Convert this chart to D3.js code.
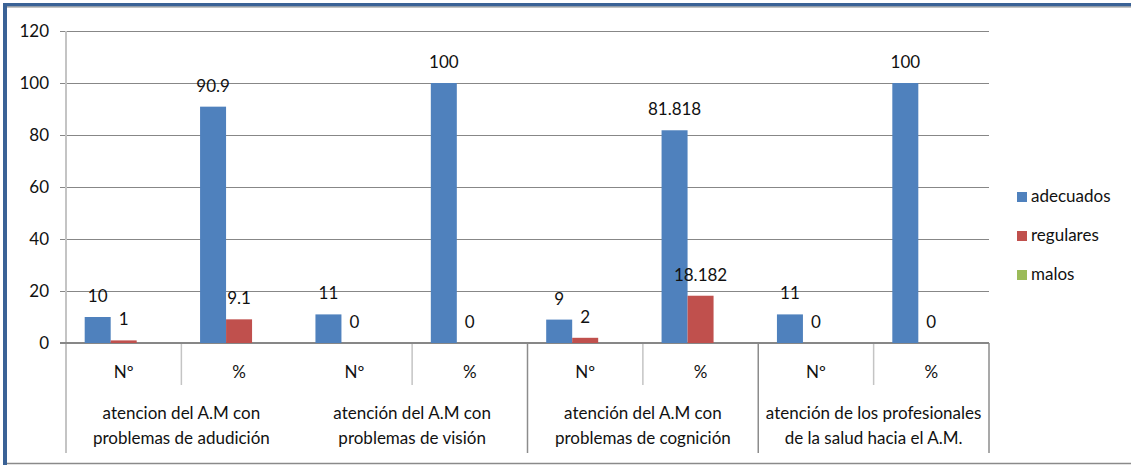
<!DOCTYPE html>
<html>
<head>
<meta charset="utf-8">
<script src="https://cdn.jsdelivr.net/npm/d3@7"></script>
<style>
  html, body { margin: 0; padding: 0; background: #fff; }
  svg { display: block; }
  text { font-family: Lato, "Open Sans", sans-serif; fill: #111; }
</style>
</head>
<body>
<svg id="chart" width="1131" height="465"></svg>
<script>
// Sub-categories along the x axis (count and percentage per group)
const categories = ["Nº", "%", "Nº", "%", "Nº", "%", "Nº", "%"];
// Group captions, two lines each, one per pair of sub-categories
const groupLabels = [
  ["atencion del A.M con", "problemas de adudición"],
  ["atención del A.M con", "problemas de visión"],
  ["atención del A.M con", "problemas de cognición"],
  ["atención de los profesionales", "de la salud hacia el A.M."]
];
const seriesNames = ["adecuados", "regulares", "malos"];
const adecuados = [10, 90.9, 11, 100, 9, 81.818, 11, 100];
const regulares = [1, 9.1, 0, 0, 2, 18.182, 0, 0];
const malos = [null, null, null, null, null, null, null, null];
const yTicks = [0, 20, 40, 60, 80, 100, 120];

const colors = ["#4F81BD", "#C0504D", "#9BBB59"];
const seriesValues = [adecuados, regulares, malos];

const svg = d3.select("#chart");

// Frame of the chart object
svg.append("rect").attr("x", 0).attr("y", 0).attr("width", 1131).attr("height", 465).attr("fill", "#fff");
svg.append("rect").attr("x", 3).attr("y", 3).attr("width", 1131).attr("height", 3.5).attr("fill", "#3A6296");
svg.append("rect").attr("x", 3).attr("y", 3).attr("width", 4).attr("height", 462).attr("fill", "#3A6296");
svg.append("line").attr("x1", 7).attr("x2", 1131).attr("y1", 7).attr("y2", 7).attr("stroke", "#8a8a8a").attr("stroke-width", 1);
svg.append("line").attr("x1", 7).attr("x2", 1131).attr("y1", 463.5).attr("y2", 463.5).attr("stroke", "#8a8a8a").attr("stroke-width", 1.5);

const plotLeft = 66, plotRight = 989, plotTop = 31, plotBottom = 343;

const x0 = d3.scaleBand()
  .domain(d3.range(categories.length))
  .range([plotLeft, plotRight])
  .paddingInner(0.324)
  .paddingOuter(0.162);

const x1 = d3.scaleBand()
  .domain(d3.range(seriesNames.length))
  .range([0, x0.bandwidth()]);

const y = d3.scaleLinear().domain([0, 120]).range([plotBottom, plotTop]);

// Horizontal gridlines and tick labels
const yAxis = d3.axisLeft(y)
  .tickValues(yTicks)
  .tickSize(0)
  .tickPadding(17)
  .tickFormat(d3.format("d"));

const gy = svg.append("g").attr("transform", `translate(${plotLeft},0)`).call(yAxis);
gy.select(".domain").remove();
gy.selectAll(".tick line")
  .attr("stroke", "#878787")
  .attr("stroke-width", 1)
  .attr("x1", -6)
  .attr("x2", plotRight - plotLeft);
gy.selectAll(".tick text")
  .attr("font-size", 17)
  .attr("fill", "#111")
  .style("font-family", "Lato, sans-serif");

// Vertical value axis line
svg.append("line")
  .attr("x1", plotLeft).attr("x2", plotLeft)
  .attr("y1", y(120)).attr("y2", 453)
  .attr("stroke", "#c4c4c4").attr("stroke-width", 2);

// Category boundaries below the baseline
const step = x0.step();
d3.range(1, categories.length + 1).forEach(i => {
  const bx = plotLeft + i * step;
  const isGroup = i % 2 === 0;
  if (i === 2) return; // boundary left undrawn under the wide first caption
  svg.append("line")
    .attr("x1", bx).attr("x2", bx)
    .attr("y1", plotBottom).attr("y2", isGroup ? 453 : 385)
    .attr("stroke", isGroup ? "#8c8c8c" : "#c4c4c4")
    .attr("stroke-width", 1.5);
});

// Baseline
svg.append("line")
  .attr("x1", plotLeft - 6).attr("x2", plotRight)
  .attr("y1", y(0)).attr("y2", y(0))
  .attr("stroke", "#878787").attr("stroke-width", 2);

// Bars
const groups = svg.append("g").selectAll("g")
  .data(categories.map((c, i) => i))
  .join("g")
  .attr("transform", i => `translate(${x0(i)},0)`);

groups.selectAll("rect")
  .data(i => seriesValues.map((vals, s) => ({ s, v: vals[i] })).filter(d => d.v !== null && d.v > 0))
  .join("rect")
  .attr("x", d => x1(d.s))
  .attr("width", x1.bandwidth())
  .attr("y", d => y(d.v))
  .attr("height", d => y(0) - y(d.v))
  .attr("fill", d => colors[d.s]);

// Value labels
groups.selectAll("text.val")
  .data(i => seriesValues.map((vals, s) => ({ s, v: vals[i] })).filter(d => d.v !== null))
  .join("text")
  .attr("class", "val")
  .attr("x", d => x1(d.s) + x1.bandwidth() / 2)
  .attr("y", d => y(d.v) - 15)
  .attr("text-anchor", "middle")
  .attr("font-size", 17)
  .text(d => d.v);

// Sub-category labels
svg.append("g").selectAll("text")
  .data(categories)
  .join("text")
  .attr("x", (d, i) => x0(i) + x0.bandwidth() / 2)
  .attr("y", 378)
  .attr("text-anchor", "middle")
  .attr("font-size", 17)
  .text(d => d);

// Group captions
groupLabels.forEach((lines, g) => {
  const cx = plotLeft + (2 * g + 1) * step;
  lines.forEach((line, k) => {
    svg.append("text")
      .attr("x", cx)
      .attr("y", 419 + k * 25)
      .attr("text-anchor", "middle")
      .attr("font-size", 17)
      .text(line);
  });
});

// Legend
const legend = svg.append("g").selectAll("g")
  .data(seriesNames)
  .join("g")
  .attr("transform", (d, i) => `translate(1017,${192 + i * 39})`);
legend.append("rect").attr("width", 10).attr("height", 10).attr("fill", (d, i) => colors[i]);
legend.append("text").attr("x", 14).attr("y", 10).attr("font-size", 17).text(d => d);
</script>
</body>
</html>
